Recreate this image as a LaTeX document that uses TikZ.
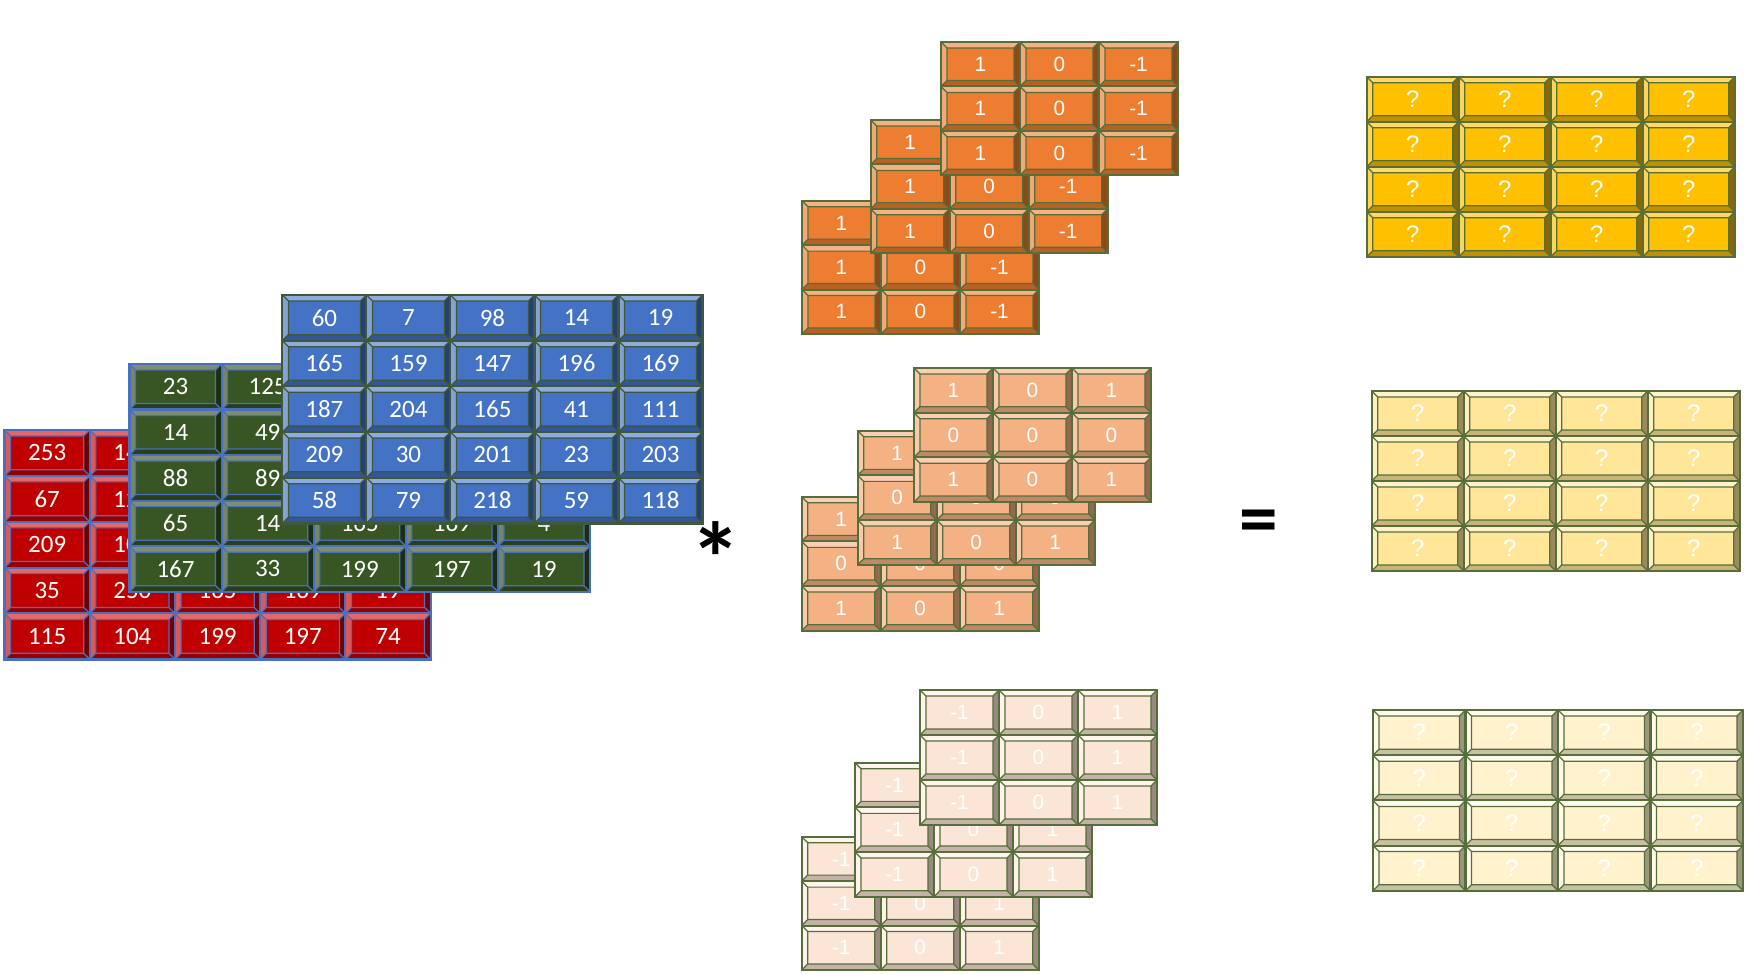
\documentclass[tikz,border=0pt]{standalone}
\usepackage{fontspec}
\setmainfont{Carlito}
\newfontfamily\kfont{Liberation Sans}
\usetikzlibrary{calc}
% input colours
\definecolor{redF}{RGB}{192,0,0}\definecolor{redL}{RGB}{228,104,104}\definecolor{redD}{RGB}{115,0,0}
\definecolor{grnF}{RGB}{55,86,35}\definecolor{grnL}{RGB}{128,142,112}\definecolor{grnD}{RGB}{28,45,16}
\definecolor{bluF}{RGB}{68,114,196}\definecolor{bluL}{RGB}{143,170,220}\definecolor{bluD}{RGB}{36,64,116}
\definecolor{inLine}{RGB}{72,112,190}\definecolor{bluLine}{RGB}{62,88,58}
% kernel colours
\definecolor{orF}{RGB}{237,125,49}\definecolor{orL}{RGB}{244,177,131}\definecolor{orD}{RGB}{140,74,28}
\definecolor{loF}{RGB}{244,177,131}\definecolor{loL}{RGB}{249,206,178}\definecolor{loD}{RGB}{146,104,78}
\definecolor{peF}{RGB}{251,229,214}\definecolor{peL}{RGB}{254,245,238}\definecolor{peD}{RGB}{152,138,128}
% output colours
\definecolor{goF}{RGB}{255,192,0}\definecolor{goL}{RGB}{255,217,102}\definecolor{goD}{RGB}{140,105,0}
\definecolor{lgF}{RGB}{255,230,153}\definecolor{lgL}{RGB}{255,242,204}\definecolor{lgD}{RGB}{153,138,92}
\definecolor{ygF}{RGB}{255,242,204}\definecolor{ygL}{RGB}{255,251,238}\definecolor{ygD}{RGB}{156,150,128}
\definecolor{olive}{RGB}{86,110,58}
\newlength{\bv}\setlength{\bv}{0.6mm}
\newcommand{\numfont}{\fontsize{7.1}{8}\selectfont}
\newcommand{\kerfont}{\kfont\fontsize{5.9}{6}\selectfont}
\newcommand{\qfont}{\kfont\fontsize{6.8}{7}\selectfont}
\tikzset{
  bevcell/.style n args={4}{rectangle, draw=#4, line width=0.6pt, fill=#1, inner sep=0pt, text=white,
    path picture={
      \coordinate (o1) at (path picture bounding box.south west);
      \coordinate (o2) at (path picture bounding box.north east);
      \coordinate (q1) at ([shift={(\bv,\bv)}]path picture bounding box.south west);
      \coordinate (q2) at ([shift={(-\bv,-\bv)}]path picture bounding box.north east);
      \fill[#2] (o1|-o2) -- (o2) -- (q2) -- (q1|-q2) -- cycle;
      \fill[#2!85!#1] (o1) -- (o1|-o2) -- (q1|-q2) -- (q1) -- cycle;
      \fill[#3!55!#1] (o1) -- (o2|-o1) -- (q2|-q1) -- (q1) -- cycle;
      \fill[#3] (o2|-o1) -- (o2) -- (q2) -- (q2|-q1) -- cycle;
      \draw[#4, line width=0.35pt] (q1) rectangle (q2)
        (o1) -- (q1) (o2) -- (q2) (o1|-o2) -- (q1|-q2) (o2|-o1) -- (q2|-q1);
    }},
  inR/.style={bevcell={redF}{redL}{redD}{inLine}, font=\numfont},
  inG/.style={bevcell={grnF}{grnL}{grnD}{inLine}, font=\numfont},
  inB/.style={bevcell={bluF}{bluL}{bluD}{bluLine}, font=\numfont},
  kO/.style={bevcell={orF}{orL}{orD}{olive}, font=\kerfont},
  kL/.style={bevcell={loF}{loL}{loD}{olive}, font=\kerfont},
  kP/.style={bevcell={peF}{peL}{peD}{olive}, font=\kerfont},
  oG/.style={bevcell={goF}{goL}{goD}{olive}, font=\qfont},
  oL/.style={bevcell={lgF}{lgL}{lgD}{olive}, font=\qfont},
  oY/.style={bevcell={ygF}{ygL}{ygD}{olive}, font=\qfont},
  frame/.style={line width=0.7pt},
  op/.style={inner sep=0pt, anchor=north, text=black},
}
% #1 prefix, #2 x0, #3 y0, #4 cell w, #5 cell h, #6 style, #7 rows (empty entry = cell whose text is hidden)
\newcommand{\cellgrid}[7]{%
  \foreach \rowlist [count=\ri] in {#7} {
    \foreach \val [count=\ci] in \rowlist {
      \node[#6, minimum width=#4*0.1mm, minimum height=#5*0.1mm] (#1-\ri-\ci)
        at ({#2+(\ci-0.5)*#4},{#3+(\ri-0.5)*#5}) {\val};
    }
  }
}
\begin{document}
\begin{tikzpicture}[x=0.1mm, y=-0.1mm]
\useasboundingbox (0,0) rectangle (1750,975);
% ---------- input volume ----------
\filldraw[frame, fill=redF, draw=inLine] (4.6,430) rectangle (430.7,659.3);
\cellgrid{R}{4.6}{430}{85.2}{45.86}{inR}{{253,144,{},{},{}},{67,128,{},{},{}},{209,103,{},{},{}},{35,250,165,169,19},{115,104,199,197,74}}
\filldraw[frame, fill=grnF, draw=inLine] (129.5,364) rectangle (590,591.7);
\cellgrid{G}{129.5}{364}{92.1}{45.54}{inG}{{23,125,{},{},{}},{14,49,{},{},{}},{88,89,{},{},{}},{65,14,165,169,4},{167,33,199,197,19}}
\filldraw[frame, fill=bluF, draw=bluLine] (282.4,295) rectangle (702.5,523.3);
\cellgrid{B}{282.4}{295}{84.02}{45.66}{inB}{{60,7,98,14,19},{165,159,147,196,169},{187,204,165,41,111},{209,30,201,23,203},{58,79,218,59,118}}
% ---------- operators ----------
\node[op, font=\bfseries\fontsize{29}{29}\selectfont] (ast) at (716,521) {*};
\node[op, font=\bfseries\fontsize{22}{22}\selectfont] (eq) at (1259,509) {=};
% ---------- kernel 1 ----------
\cellgrid{K1a}{802}{200.7}{79}{44.43}{kO}{{1,{},{}},{1,0,-1},{1,0,-1}}
\cellgrid{K1b}{870.7}{120}{79}{44.43}{kO}{{1,{},{}},{1,0,-1},{1,0,-1}}
\cellgrid{K1c}{941}{42}{79}{44.43}{kO}{{1,0,-1},{1,0,-1},{1,0,-1}}
% ---------- kernel 2 ----------
\cellgrid{K2a}{801.7}{496.7}{79}{44.67}{kL}{{1,{},{}},{0,0,0},{1,0,1}}
\cellgrid{K2b}{857.7}{430.7}{79}{44.67}{kL}{{1,{},{}},{0,0,0},{1,0,1}}
\cellgrid{K2c}{914}{368}{79}{44.67}{kL}{{1,0,1},{0,0,0},{1,0,1}}
% ---------- kernel 3 ----------
\cellgrid{K3a}{801.7}{836.7}{79}{44.43}{kP}{{-1,{},{}},{-1,0,1},{-1,0,1}}
\cellgrid{K3b}{855}{762.7}{79}{44.67}{kP}{{-1,{},{}},{-1,0,1},{-1,0,1}}
\cellgrid{K3c}{920}{690}{79}{45}{kP}{{-1,0,1},{-1,0,1},{-1,0,1}}
% ---------- outputs ----------
\cellgrid{O1}{1366.7}{76.7}{92}{45}{oG}{{?,?,?,?},{?,?,?,?},{?,?,?,?},{?,?,?,?}}
\cellgrid{O2}{1371.7}{391}{92}{45}{oL}{{?,?,?,?},{?,?,?,?},{?,?,?,?},{?,?,?,?}}
\cellgrid{O3}{1373}{710}{92.5}{45.2}{oY}{{?,?,?,?},{?,?,?,?},{?,?,?,?},{?,?,?,?}}
\end{tikzpicture}
\end{document}
